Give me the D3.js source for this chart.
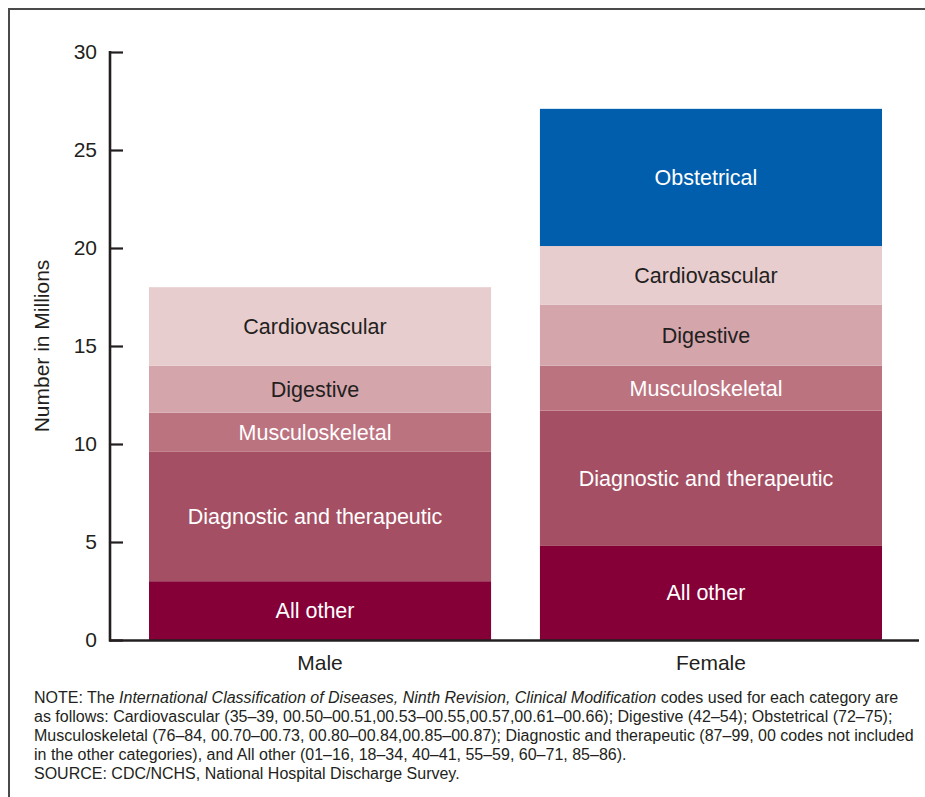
<!DOCTYPE html>
<html>
<head>
<meta charset="utf-8">
<script src="https://cdn.jsdelivr.net/npm/d3@7"></script>
<style>
  body { margin: 0; background: #fff; }
  svg { display: block; font-family: "Liberation Sans", Arial, Helvetica, sans-serif; }
</style>
</head>
<body>
<div id="chart"></div>
<script>
// data (millions of discharges, stacked from bottom)
const groups = ["Male", "Female"];
const categories = ["All other", "Diagnostic and therapeutic", "Musculoskeletal", "Digestive", "Cardiovascular", "Obstetrical"];
const maleValues = [3.0, 6.6, 2.0, 2.4, 4.0, 0];
const femaleValues = [4.8, 6.9, 2.3, 3.1, 3.0, 7.0];
const yTicks = [0, 5, 10, 15, 20, 25, 30];

const colors = ["#840037", "#a44f63", "#bc7380", "#d5a5ac", "#e8cdcf", "#005eac"];
const labelColors = ["#fff", "#fff", "#fff", "#231f20", "#231f20", "#fff"];

const W = 925, H = 797;
const ink = "#231f20";

const svg = d3.select("#chart").append("svg")
    .attr("width", W)
    .attr("height", H);

// frame (only top and left edges are visible in the crop)
svg.append("path")
    .attr("d", "M9," + H + "V9H" + W)
    .attr("fill", "none")
    .attr("stroke", "#4a4a4a")
    .attr("stroke-width", 2);

const x = d3.scaleBand().domain(groups).range([149, 882]).paddingInner(0.125).paddingOuter(0);
const y = d3.scaleLinear().domain([0, 30]).range([640, 52]);

// stack
const rows = groups.map((g, i) => {
    const vals = i === 0 ? maleValues : femaleValues;
    const row = { group: g };
    categories.forEach((c, j) => row[c] = vals[j]);
    return row;
});
const series = d3.stack().keys(categories)(rows);

series.forEach((s, k) => {
    const segs = s.filter(d => d[1] - d[0] > 0);
    svg.append("g").selectAll("rect")
        .data(segs)
        .enter().append("rect")
        .attr("x", d => x(d.data.group))
        .attr("y", d => y(d[1]))
        .attr("width", x.bandwidth())
        .attr("height", d => y(d[0]) - y(d[1]))
        .attr("fill", colors[k]);

    svg.append("g").selectAll("text")
        .data(segs)
        .enter().append("text")
        .attr("x", d => x(d.data.group) + x.bandwidth() / 2 - 5)
        .attr("y", d => (y(d[0]) + y(d[1])) / 2)
        .attr("dy", "0.35em")
        .attr("text-anchor", "middle")
        .style("font-size", "21.5px")
        .attr("fill", labelColors[k])
        .text(s.key);
});

// y axis
const yAxis = svg.append("g")
    .attr("transform", "translate(110,0)")
    .call(d3.axisRight(y).tickValues(yTicks).tickSize(13).tickFormat(d3.format("d")));
yAxis.select(".domain").remove();
yAxis.selectAll(".tick line").attr("stroke", ink).attr("stroke-width", 2.2);
yAxis.selectAll(".tick text")
    .attr("x", -13)
    .attr("text-anchor", "end")
    .attr("fill", ink)
    .style("font-size", "21px")
    .style("font-family", "Liberation Sans, Arial, sans-serif");

svg.append("line")
    .attr("x1", 110).attr("x2", 110)
    .attr("y1", y(30) - 1).attr("y2", y(0) + 1.5)
    .attr("stroke", ink).attr("stroke-width", 2.6);

// x axis baseline
svg.append("line")
    .attr("x1", 109).attr("x2", 919)
    .attr("y1", y(0) + 0.5).attr("y2", y(0) + 0.5)
    .attr("stroke", ink).attr("stroke-width", 2.6);

svg.append("g").selectAll("text")
    .data(groups)
    .enter().append("text")
    .attr("x", d => x(d) + x.bandwidth() / 2)
    .attr("y", 670)
    .attr("text-anchor", "middle")
    .attr("fill", ink)
    .style("font-size", "21px")
    .text(d => d);

svg.append("text")
    .attr("transform", "rotate(-90)")
    .attr("x", -(y(0) + y(30)) / 2)
    .attr("y", 49)
    .attr("text-anchor", "middle")
    .attr("fill", ink)
    .style("font-size", "21px")
    .text("Number in Millions");

// note
const note = svg.append("text")
    .attr("x", 34)
    .attr("fill", ink)
    .style("font-size", "16px");

const line1 = note.append("tspan").attr("x", 34).attr("y", 703);
line1.append("tspan").text("NOTE: The ");
line1.append("tspan").style("font-style", "italic").text("International Classification of Diseases, Ninth Revision, Clinical Modification");
line1.append("tspan").text(" codes used for each category are");

const noteLines = [
    "as follows: Cardiovascular (35\u201339, 00.50\u201300.51,00.53\u201300.55,00.57,00.61\u201300.66); Digestive (42\u201354); Obstetrical (72\u201375);",
    "Musculoskeletal (76\u201384, 00.70\u201300.73, 00.80\u201300.84,00.85\u201300.87); Diagnostic and therapeutic (87\u201399, 00 codes not included",
    "in the other categories), and All other (01\u201316, 18\u201334, 40\u201341, 55\u201359, 60\u201371, 85\u201386).",
    "SOURCE: CDC/NCHS, National Hospital Discharge Survey."
];
noteLines.forEach((t, i) => {
    note.append("tspan").attr("x", 34).attr("y", 703 + 19 * (i + 1)).text(t);
});
</script>
</body>
</html>
